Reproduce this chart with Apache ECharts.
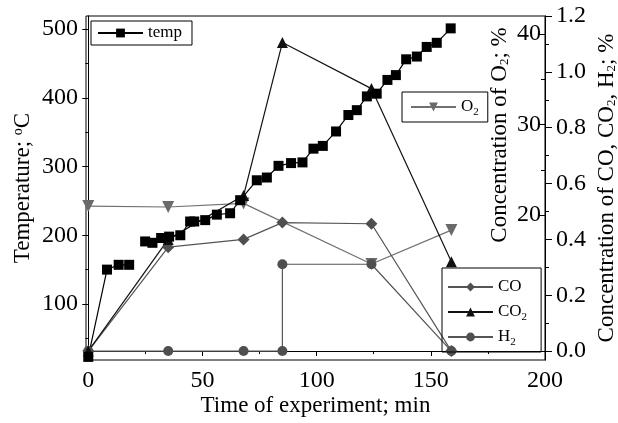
<!DOCTYPE html>
<html>
<head>
<meta charset="utf-8">
<script src="https://cdn.jsdelivr.net/npm/echarts@6/dist/echarts.min.js"></script>
<style>
html, body {margin: 0; padding: 0; background: #fff;}
#main {width: 618px; height: 423px;}
</style>
</head>
<body>
<div id="main"></div>
<script>
// temperature (left axis), null breaks the line
const timeTemp = [0, 8.2, 13.3, 17.9, 21, 24.9, 28.1, 31.9, 35.4, 40.3, 44.6, 46.4, 51.2, 56.3, 62.1, 66.5, 73.8, 78.2, 83.3, 88.8, 93.8, 98.6, 102.7, 108.5, 113.9, 117.6, 122, 126.3, 131, 134.7, 139.2, 143.9, 148.2, 152.6, 158.7];
const tempVals = [23, 150, 157, 157, null, 191, 189, 196, 198, 200, 220, 220, 222, 230, 232, 251, 280, 284, 301, 305, 306, 326, 330, 351, 375, 382, 402, 406, 426, 433, 456, 460, 474, 480, 501];

// O2 (inner right axis)
const timeO2 = [0, 35, 68, 124, 159];
const o2Vals = [21.0, 20.9, 21.3, 14.6, 18.35];

// CO, CO2 (outer right axis)
const timeGas = [0, 35, 68, 85, 124, 159];
const coVals = [0, 0.372, 0.40, 0.46, 0.456, 0];
const co2Vals = [0, 0.40, 0.557, 1.105, 0.94, 0.32];

// H2
const timeH2 = [0, 35, 68, 85, 85, 124, 159];
const h2Vals = [0, 0, 0, 0, 0.311, 0.311, 0];

// ticks
const xTicks = [0, 50, 100, 150, 200];
const xMinor = [25, 75, 125, 175];
const tempTicks = [100, 200, 300, 400, 500];
const tempMinor = [50, 150, 250, 350, 450];
const o2Ticks = [20, 30, 40];
const o2Minor = [25, 35];
const gasTicks = [0, 0.2, 0.4, 0.6, 0.8, 1.0, 1.2];
const gasMinor = [0.1, 0.3, 0.5, 0.7, 0.9, 1.1];

const FONT = 'Liberation Serif';

function pairs(xs, ys) {
	return xs.map(function (x, i) {
		return [x, ys[i]];
	});
}

const rich = {
	sub: {fontFamily: FONT, fontSize: 13, color: '#000', verticalAlign: 'bottom', lineHeight: 22},
	sup: {fontFamily: FONT, fontSize: 14, color: '#000', verticalAlign: 'top', lineHeight: 22}
};

function legendName(name) {
	return name.replace(/(\d)/g, '{sub|$1}');
}

function minorAxis(pos, min, max, vals, len, inside) {
	return {
		type: 'value', position: pos, min: min, max: max,
		axisLine: {show: false}, axisLabel: {show: false}, splitLine: {show: false},
		axisTick: {show: true, inside: !!inside, length: len, customValues: vals, lineStyle: {color: '#000', width: 1}}
	};
}

const legendBase = {
	itemWidth: 45, itemHeight: 11, borderColor: '#000', borderWidth: 1,
	formatter: legendName,
	textStyle: {fontFamily: FONT, fontSize: 17, color: '#000', lineHeight: 22, rich: {
		sub: {fontFamily: FONT, fontSize: 11, color: '#000', verticalAlign: 'bottom', lineHeight: 22}
	}}
};

const option = {
	animation: false,
	backgroundColor: '#fff',
	grid: {left: 86, right: 73, top: 16, bottom: 63, show: true, borderColor: '#000', borderWidth: 1, outerBoundsMode: 'none'},
	legend: [
		Object.assign({}, legendBase, {data: ['temp'], left: 91, top: 21, padding: [1, 10, 1, 6]}),
		Object.assign({}, legendBase, {data: ['O2'], left: 402, top: 92, padding: [4, 9, 4, 8]}),
		Object.assign({}, legendBase, {data: ['CO', 'CO2', 'H2'], orient: 'vertical', left: 442, top: 268, itemGap: 3, padding: [8, 14, 4, 5]})
	],
	xAxis: [{
		type: 'value', min: -1, max: 200,
		name: 'Time of experiment; min', nameLocation: 'middle', nameGap: 34, nameMoveOverlap: false,
		nameTextStyle: {fontFamily: FONT, fontSize: 23, color: '#000'},
		axisLine: {lineStyle: {color: '#000', width: 1}},
		axisTick: {length: 5, customValues: xTicks, lineStyle: {color: '#000'}},
		axisLabel: {customValues: xTicks, margin: 9, fontFamily: FONT, fontSize: 24, color: '#000'},
		splitLine: {show: false}
	}, minorAxis('bottom', -1, 200, xMinor, 3)],
	yAxis: [{
		type: 'value', position: 'left', min: 18.5, max: 519,
		name: 'Temperature; {sup|o}C', nameLocation: 'middle', nameGap: 52, nameRotate: 90, nameMoveOverlap: false,
		nameTextStyle: {fontFamily: FONT, fontSize: 23, color: '#000', rich: rich},
		axisLine: {show: true, lineStyle: {color: '#000', width: 1}},
		axisTick: {length: 6, customValues: tempTicks, lineStyle: {color: '#000'}},
		axisLabel: {customValues: tempTicks, margin: 8, fontFamily: FONT, fontSize: 24, color: '#000'},
		splitLine: {show: false}
	}, minorAxis('left', 18.5, 519, tempMinor, 3), {
		type: 'value', position: 'right', min: 4, max: 42,
		name: 'Concentration of O{sub|2}; %', nameLocation: 'middle', nameGap: -57, nameRotate: 90, nameMoveOverlap: false,
		nameTextStyle: {fontFamily: FONT, fontSize: 23, color: '#000', rich: rich, padding: [0, 0, 0, 106]},
		axisLine: {show: true, lineStyle: {color: '#000', width: 1}},
		axisTick: {inside: true, length: 7, customValues: o2Ticks, lineStyle: {color: '#000'}},
		axisLabel: {inside: true, customValues: o2Ticks, margin: 4, fontFamily: FONT, fontSize: 24, color: '#000'},
		splitLine: {show: false}
	}, minorAxis('right', 4, 42, o2Minor, 4, true), {
		type: 'value', position: 'right', min: -0.032, max: 1.2,
		name: 'Concentration of CO, CO{sub|2}, H{sub|2}; %', nameLocation: 'middle', nameGap: 50, nameRotate: 90, nameMoveOverlap: false,
		nameTextStyle: {fontFamily: FONT, fontSize: 23, color: '#000', rich: rich},
		axisLine: {show: true, lineStyle: {color: '#000', width: 1}},
		axisTick: {length: 7, customValues: gasTicks, lineStyle: {color: '#000'}},
		axisLabel: {customValues: gasTicks, margin: 11, fontFamily: FONT, fontSize: 24, color: '#000', formatter: function (v) {
			return v.toFixed(1);
		}},
		splitLine: {show: false}
	}, minorAxis('right', -0.032, 1.2, gasMinor, 4)],
	series: [{
		name: 'O2', type: 'line', yAxisIndex: 2, data: pairs(timeO2, o2Vals), clip: false,
		symbol: 'triangle', symbolRotate: 180, symbolSize: 12,
		itemStyle: {color: '#6a6a6a'}, lineStyle: {color: '#707070', width: 1.2}
	}, {
		name: 'CO', type: 'line', yAxisIndex: 4, data: pairs(timeGas, coVals), clip: false,
		symbol: 'diamond', symbolSize: 12,
		itemStyle: {color: '#4f4f4f'}, lineStyle: {color: '#555', width: 1.2}
	}, {
		name: 'H2', type: 'line', yAxisIndex: 4, data: pairs(timeH2, h2Vals), clip: false,
		symbol: 'circle', symbolSize: 10,
		itemStyle: {color: '#4f4f4f'}, lineStyle: {color: '#555', width: 1.2}
	}, {
		name: 'CO2', type: 'line', yAxisIndex: 4, data: pairs(timeGas, co2Vals), clip: false,
		symbol: 'triangle', symbolSize: 11,
		itemStyle: {color: '#111'}, lineStyle: {color: '#111', width: 1.2}
	}, {
		name: 'temp', type: 'line', yAxisIndex: 0, data: pairs(timeTemp, tempVals), clip: false,
		symbol: 'rect', symbolSize: 10, connectNulls: false,
		itemStyle: {color: '#000'}, lineStyle: {color: '#000', width: 1.2}
	}]
};

echarts.init(document.getElementById('main')).setOption(option);
</script>
</body>
</html>
